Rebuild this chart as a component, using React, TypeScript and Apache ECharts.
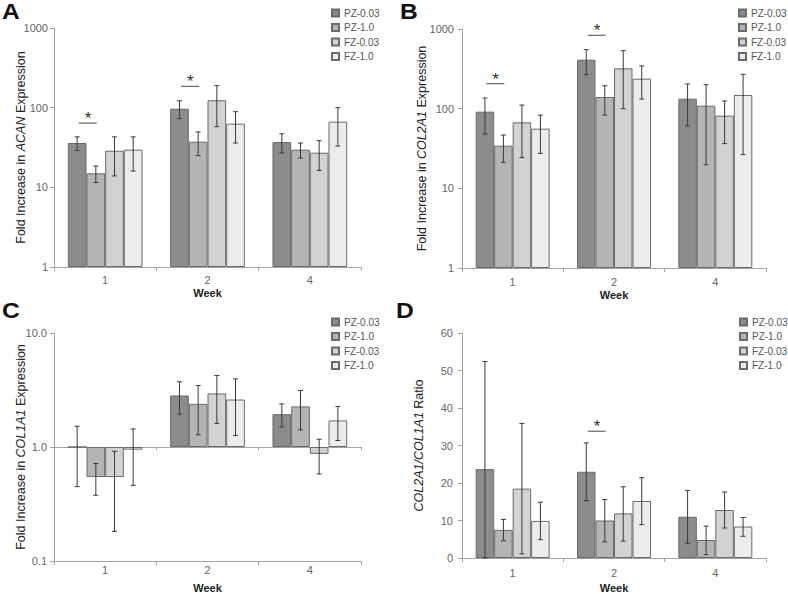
import React, { useEffect, useRef } from 'react';
import * as echarts from 'echarts';

const weeks = ['1', '2', '4'];
const groups = ['PZ-0.03', 'PZ-1.0', 'FZ-0.03', 'FZ-1.0'];
const barFills = ['#8c8c8c', '#b4b4b4', '#d2d2d2', '#ececec'];

// Panel A: ACAN fold increase (rows = groups, cols = weeks)
const acanMean = [[36, 97, 37], [15, 37.4, 29.7], [28.8, 124, 27.2], [29.7, 63, 66.7]];
const acanLow = [[29, 72.8, 27], [11.5, 25, 23.3], [13.9, 57.8, 16.3], [16, 36, 33]];
const acanHigh = [[43, 122, 47], [18.5, 49.5, 36], [43, 189, 38.5], [43, 89, 100]];
const acanSig = [[0, 64], [1, 185]];

// Panel B: COL2A1 fold increase
const col2Mean = [[91.7, 412, 133.5], [34.3, 140, 109], [67.4, 321, 81.7], [56.1, 238, 148.5]];
const col2Low = [[48, 267, 60.6], [21.2, 83, 19.8], [24.3, 100, 36.4], [27.5, 132, 26.5]];
const col2High = [[136, 550, 204], [46.7, 194, 200], [111, 535, 125], [83, 344, 270]];
const col2Sig = [[0, 206], [1, 832]];

// Panel C: COL1A1 fold increase
const col1Mean = [[1.0, 2.83, 1.94], [0.545, 2.39, 2.27], [0.545, 2.95, 0.87], [0.948, 2.61, 1.71]];
const col1Low = [[0.449, 1.94, 1.5], [0.377, 1.28, 1.41], [0.182, 1.61, 0.58], [0.461, 1.26, 1.14]];
const col1High = [[1.52, 3.73, 2.39], [0.716, 3.46, 3.13], [0.917, 4.24, 1.17], [1.44, 3.96, 2.27]];
const col1Sig: number[][] = [];

// Panel D: COL2A1/COL1A1 ratio
const ratioMean = [[23.7, 23.0, 11.0], [7.5, 10.0, 4.8], [18.5, 11.9, 12.8], [9.9, 15.2, 8.4]];
const ratioLow = [[0, 15.3, 3.9], [4.6, 4.3, 0.9], [1.1, 4.5, 8.0], [4.9, 8.9, 5.8]];
const ratioHigh = [[52.4, 30.7, 18.0], [10.3, 15.6, 8.5], [35.9, 19.0, 17.6], [14.9, 21.4, 10.8]];
const ratioSig = [[1, 33.8]];

const FONT = "'Liberation Sans', Arial, Helvetica, sans-serif";
const CAT_GAP = 0.27;
const AXIS_COLOR = '#a3a3a3';
const LABEL_COLOR = '#666666';
const TITLE_COLOR = '#222222';

function bandWidth(api: any, v: number) {
  return api.coord([1, v])[0] - api.coord([0, v])[0];
}

function errorRender(_params: any, api: any) {
  const cat = api.value(0);
  const g = api.value(1);
  const lo = api.coord([cat, api.value(2)]);
  const hi = api.coord([cat, api.value(3)]);
  const band = bandWidth(api, api.value(3));
  const bw = (band * (1 - CAT_GAP)) / 4;
  const x = lo[0] + (g - 1.5) * bw;
  const cap = 2.5;
  const style = { stroke: '#3a3a3a', lineWidth: 1 };
  return {
    type: 'group',
    children: [
      { type: 'line', shape: { x1: x, y1: lo[1], x2: x, y2: hi[1] }, style },
      { type: 'line', shape: { x1: x - cap, y1: hi[1], x2: x + cap, y2: hi[1] }, style },
      { type: 'line', shape: { x1: x - cap, y1: lo[1], x2: x + cap, y2: lo[1] }, style },
    ],
  };
}

function sigRender(_params: any, api: any) {
  const cat = api.value(0);
  const c = api.coord([cat, api.value(1)]);
  const band = bandWidth(api, api.value(1));
  const bw = (band * (1 - CAT_GAP)) / 4;
  const boundary = c[0] - bw;
  return {
    type: 'group',
    children: [
      {
        type: 'line',
        shape: { x1: boundary - 0.42 * bw, y1: c[1], x2: boundary + 0.55 * bw, y2: c[1] },
        style: { stroke: '#707070', lineWidth: 1.3 },
      },
      {
        type: 'text',
        x: boundary + 0.08 * bw,
        y: c[1] + 4,
        style: {
          text: '*',
          fontSize: 17,
          fontFamily: FONT,
          fill: '#333333',
          align: 'center',
          verticalAlign: 'bottom',
        },
      },
    ],
  };
}

const panels = [
  {
    letter: 'A', letterPos: [2, 0],
    grid: { left: 54, top: 28, width: 307, height: 239 },
    log: true, min: 1, max: 1000, split: 3,
    yName: 'Fold Increase in {i|ACAN} Expression', yNameGap: 27, yLabelMargin: 6,
    xLabelMargin: 7, xNameGap: 20, legend: { left: 331, top: 7 },
    mean: acanMean, low: acanLow, high: acanHigh, sig: acanSig,
    fmt: (v: number) => String(Math.round(v)),
  },
  {
    letter: 'B', letterPos: [400, 0],
    grid: { left: 462, top: 29, width: 304, height: 239 },
    log: true, min: 1, max: 1000, split: 3,
    yName: 'Fold Increase in {i|COL2A1} Expression', yNameGap: 34, yLabelMargin: 8,
    xLabelMargin: 8, xNameGap: 21, legend: { left: 738, top: 7 },
    mean: col2Mean, low: col2Low, high: col2High, sig: col2Sig,
    fmt: (v: number) => String(Math.round(v)),
  },
  {
    letter: 'C', letterPos: [2, 299],
    grid: { left: 54, top: 333, width: 307, height: 228 },
    log: true, min: 0.1, max: 10, split: 2,
    yName: 'Fold Increase in {i|COL1A1} Expression', yNameGap: 27, yLabelMargin: 7,
    xLabelMargin: 3, xNameGap: 21, legend: { left: 331, top: 316 },
    mean: col1Mean, low: col1Low, high: col1High, sig: col1Sig,
    fmt: (v: number) => v.toFixed(1),
  },
  {
    letter: 'D', letterPos: [396, 299],
    grid: { left: 462, top: 333, width: 304, height: 228 },
    log: false, min: 0, max: 60, interval: 10,
    yName: '{i|COL2A1/COL1A1} Ratio', yNameGap: 37, yLabelMargin: 9,
    xLabelMargin: 9, xNameGap: 24, legend: { left: 739, top: 316 },
    mean: ratioMean, low: ratioLow, high: ratioHigh, sig: ratioSig,
    fmt: (v: number) => String(v),
  },
];

function buildOption() {
  const grid: any[] = panels.map((p) => ({ ...p.grid }));
  // extra grid for panel C's axis line crossing at 1.0
  const pc = panels[2].grid;
  grid.push({ left: pc.left, top: pc.top, width: pc.width, height: pc.height / 2 });

  const xAxis: any[] = panels.map((p, i) => ({
    type: 'category',
    gridIndex: i,
    data: weeks,
    axisLine: { show: true, lineStyle: { color: AXIS_COLOR, width: 1 } },
    axisTick: { show: true, length: 4, lineStyle: { color: AXIS_COLOR } },
    axisLabel: { color: LABEL_COLOR, fontSize: 11, fontFamily: FONT, margin: p.xLabelMargin },
    name: 'Week',
    nameLocation: 'middle',
    nameGap: p.xNameGap,
    nameMoveOverlap: false,
    nameTextStyle: { fontSize: 11, fontWeight: 'bold', color: TITLE_COLOR, fontFamily: FONT },
  }));
  xAxis.push({
    type: 'category',
    gridIndex: 4,
    data: weeks,
    axisLine: { show: true, lineStyle: { color: AXIS_COLOR, width: 1 } },
    axisTick: { show: true, length: 3, lineStyle: { color: AXIS_COLOR } },
    axisLabel: { show: false },
  });

  const yAxis: any[] = panels.map((p, i) => ({
    type: p.log ? 'log' : 'value',
    logBase: 10,
    gridIndex: i,
    min: p.min,
    max: p.max,
    ...(p.log ? { splitNumber: p.split } : { interval: p.interval }),
    axisLine: { show: true, lineStyle: { color: AXIS_COLOR, width: 1 } },
    axisTick: { show: true, length: 4, lineStyle: { color: AXIS_COLOR } },
    splitLine: { show: false },
    axisLabel: { color: LABEL_COLOR, fontSize: 11, fontFamily: FONT, margin: p.yLabelMargin, formatter: p.fmt },
    name: p.yName,
    nameLocation: 'middle',
    nameGap: p.yNameGap,
    nameMoveOverlap: false,
    nameTextStyle: {
      fontSize: 12.5,
      color: TITLE_COLOR,
      fontFamily: FONT,
      rich: { i: { fontStyle: 'italic', fontSize: 12.5, color: TITLE_COLOR, fontFamily: FONT } },
    },
  }));
  yAxis.push({ type: 'value', gridIndex: 4, min: 0, max: 1, show: false });

  const series: any[] = [];
  panels.forEach((p, i) => {
    groups.forEach((g, gi) => {
      series.push({
        type: 'bar',
        name: g,
        xAxisIndex: i,
        yAxisIndex: i,
        data: p.mean[gi],
        barGap: '0%',
        barCategoryGap: CAT_GAP * 100 + '%',
        itemStyle: { color: barFills[gi], borderColor: '#6a6a6a', borderWidth: 1 },
        z: 2,
      });
    });
    const errData: number[][] = [];
    weeks.forEach((_w, wi) => {
      groups.forEach((_g, gi) => {
        errData.push([wi, gi, p.low[gi][wi], p.high[gi][wi]]);
      });
    });
    series.push({
      type: 'custom',
      xAxisIndex: i,
      yAxisIndex: i,
      data: errData,
      encode: { x: 0, y: [2, 3] },
      renderItem: errorRender,
      z: 5,
      silent: true,
    });
    if (p.sig.length) {
      series.push({
        type: 'custom',
        xAxisIndex: i,
        yAxisIndex: i,
        data: p.sig,
        encode: { x: 0, y: 1 },
        renderItem: sigRender,
        z: 6,
        silent: true,
      });
    }
  });

  const legend = panels.map((p) => ({
    orient: 'vertical',
    left: p.legend.left,
    top: p.legend.top,
    padding: 0,
    data: groups,
    icon: 'rect',
    itemWidth: 7,
    itemHeight: 7,
    itemGap: 2.5,
    selectedMode: false,
    textStyle: { fontSize: 10, color: '#555555', fontFamily: FONT, lineHeight: 12 },
  }));

  const graphic = panels.map((p) => ({
    type: 'text',
    left: p.letterPos[0],
    top: p.letterPos[1],
    scaleX: 1.12,
    style: { text: p.letter, fontSize: 22, fontWeight: 'bold', fontFamily: FONT, fill: '#111111' },
  }));

  return {
    animation: false,
    backgroundColor: '#ffffff',
    textStyle: { fontFamily: FONT },
    grid,
    xAxis,
    yAxis,
    legend,
    series,
    graphic,
  };
}

export default function App() {
  const ref = useRef<HTMLDivElement>(null);
  useEffect(() => {
    if (!ref.current) return;
    const chart = echarts.init(ref.current, undefined, { renderer: 'svg' });
    chart.setOption(buildOption() as any);
    return () => chart.dispose();
  }, []);
  return (
    <div
      ref={ref}
      style={{ position: 'absolute', left: 0, top: 0, width: 788, height: 594, background: '#fff' }}
    />
  );
}
